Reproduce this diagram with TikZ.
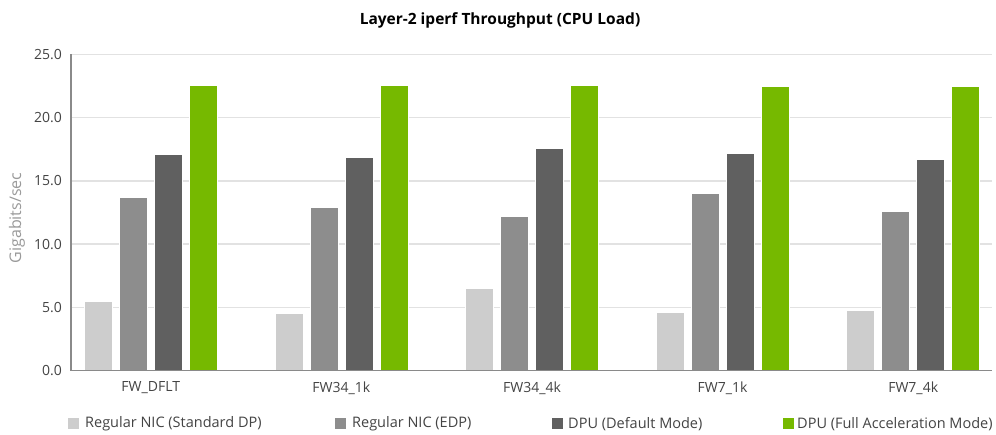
\documentclass[tikz,border=0pt]{standalone}
\usepackage{fontspec}
\setmainfont{Open Sans}
\definecolor{serA}{HTML}{CDCDCD}
\definecolor{serB}{HTML}{8D8D8D}
\definecolor{serC}{HTML}{606060}
\definecolor{serD}{HTML}{76B900}
\definecolor{gridc}{HTML}{E2E2E2}
\definecolor{axisc}{HTML}{8A8A8A}
\definecolor{tickc}{HTML}{444444}
\definecolor{ylabc}{HTML}{9A9A9A}
\begin{document}
\begin{tikzpicture}[x=1pt,y=1pt,
  gridline/.style={draw=gridc,line width=1.4pt},
  axisline/.style={draw=axisc,line width=1.2pt},
  ticklabel/.style={anchor=east,inner sep=0pt,text=tickc,font=\fontsize{14}{16}\selectfont},
  catlabel/.style={inner sep=0pt,text=tickc,font=\fontsize{14}{16}\selectfont},
  legtext/.style={anchor=west,inner sep=0pt,text=tickc,font=\fontsize{14.5}{17}\selectfont},
  legkey/.style={minimum size=11pt,inner sep=0pt,anchor=west},
  barbox/.style={draw=white,line width=0.6pt}]
\useasboundingbox (0,0) rectangle (996,435);
\fill[white] (0,0) rectangle (996,435);

% value axis: 0 at y=64.5, 12.64 units per Gbit/s
\pgfmathsetmacro{\yz}{64.5}
\pgfmathsetmacro{\ys}{12.64}

% horizontal grid and tick labels
\foreach \v in {5,10,15,20,25}{
  \draw[gridline] (71,{\yz+\v*\ys}) -- (992,{\yz+\v*\ys});
}
\foreach \v/\t in {0/0.0,5/5.0,10/10.0,15/15.0,20/20.0,25/25.0}{
  \node[ticklabel] (tick\v) at (62,{\yz+\v*\ys}) {\t};
}

% bars per category: light, mid, dark, green
\foreach \k/\cat/\a/\b/\c/\d in {
  0/FW\_DFLT/5.5/13.7/17.1/22.6,
  1/FW34\_1k/4.5/12.9/16.9/22.6,
  2/FW34\_4k/6.5/12.2/17.6/22.6,
  3/FW7\_1k/4.6/14.0/17.2/22.5,
  4/FW7\_4k/4.8/12.6/16.7/22.5}{
  \pgfmathsetmacro{\cx}{150.8+190.6*\k}
  \filldraw[barbox,fill=serA] ({\cx-66.5},\yz) rectangle ({\cx-38.5},{\yz+\a*\ys});
  \filldraw[barbox,fill=serB] ({\cx-31.5},\yz) rectangle ({\cx-3.5},{\yz+\b*\ys});
  \filldraw[barbox,fill=serC] ({\cx+3.5},\yz) rectangle ({\cx+31.5},{\yz+\c*\ys});
  \filldraw[barbox,fill=serD] ({\cx+38.5},\yz) rectangle ({\cx+66.5},{\yz+\d*\ys});
  \node[catlabel] (cat\k) at (\cx,47) {\cat};
}

% axes
\draw[axisline] (71,{\yz+25*\ys}) -- (71,\yz) -- (992,\yz);

% axis title
\node[rotate=90,inner sep=0pt,text=ylabc,font=\fontsize{16}{18}\selectfont] (ylab) at (17,217) {Gigabits/sec};

% chart title
\node[inner sep=0pt,text=black,font=\fontsize{15.5}{19}\bfseries] (title) at (500,415) {Layer-2 iperf Throughput (CPU Load)};

% legend
\node[legkey,fill=serA] (k1) at (68,11) {};
\node[legtext] (l1) at (85,11) {Regular NIC (Standard DP)};
\node[legkey,fill=serB] (k2) at (335,11) {};
\node[legtext] (l2) at (352,11) {Regular NIC (EDP)};
\node[legkey,fill=serC] (k3) at (552,11) {};
\node[legtext] (l3) at (568,11) {DPU (Default Mode)};
\node[legkey,fill=serD] (k4) at (783,11) {};
\node[legtext] (l4) at (797,11) {DPU (Full Acceleration Mode)};
\end{tikzpicture}
\end{document}
